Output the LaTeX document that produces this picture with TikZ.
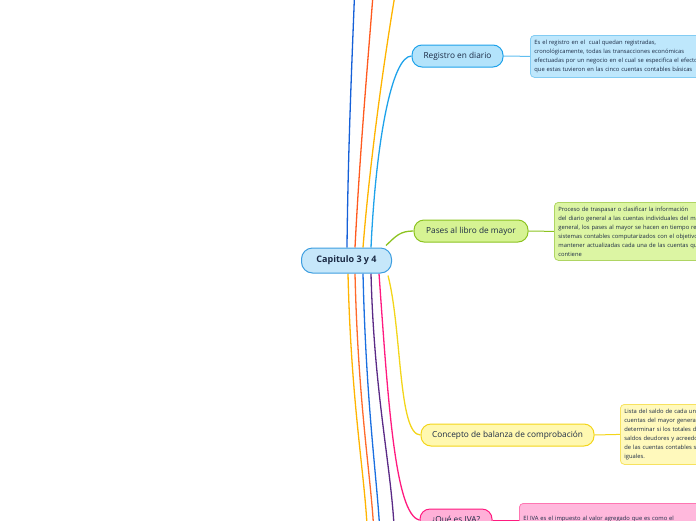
\documentclass[tikz,border=0pt]{standalone}
\usepackage{fontspec}
\setmainfont{Open Sans}
\usetikzlibrary{backgrounds}
\definecolor{cenfill}{HTML}{C6E7FA}
\definecolor{cenline}{HTML}{3D9EE0}
\definecolor{regfill}{HTML}{B3E3FB}
\definecolor{regline}{HTML}{1EA2EA}
\definecolor{pasfill}{HTML}{D6F393}
\definecolor{pasline}{HTML}{8CC320}
\definecolor{confill}{HTML}{FFF8B0}
\definecolor{conline}{HTML}{F3D51A}
\definecolor{ivafill}{HTML}{FFB0D8}
\definecolor{ivaline}{HTML}{FF1A7F}
\definecolor{cblue}{HTML}{1560D8}
\definecolor{cred}{HTML}{FF5A1F}
\definecolor{corange}{HTML}{FFB400}
\definecolor{cblue2}{HTML}{1A6FE0}
\definecolor{cpurple}{HTML}{5A2A86}
\definecolor{corred}{HTML}{FF6A2A}
\definecolor{ctext}{HTML}{1B2A44}
\tikzset{
  topic/.style={draw, line width=1pt, rounded corners=10pt, minimum height=22pt, inner sep=0pt,
    font=\fontsize{8.3}{10}\selectfont, text=ctext},
  note/.style={draw, line width=0.8pt, rounded corners=4pt, anchor=north west, align=left,
    inner xsep=4pt, inner ysep=4pt, font=\fontsize{5.8}{9}\selectfont, text=ctext},
  branch/.style={line width=1.3pt}
}
\begin{document}
\begin{tikzpicture}[x=1pt,y=-1pt]
\useasboundingbox (0,0) rectangle (696,520);
\clip (0,0) rectangle (696,520);
% central
\node[topic, fill=cenfill, draw=cenline, minimum width=90pt, minimum height=25pt, rounded corners=11pt,
  font=\fontsize{9}{11}\selectfont\bfseries] (cen) at (346.5,260.5) {Capitulo 3 y 4};
% topics
\node[topic, fill=regfill, draw=regline, minimum width=91pt] (reg) at (457.5,56) {Registro en diario};
\node[topic, fill=pasfill, draw=pasline, minimum width=114pt] (pas) at (471,231) {Pases al libro de mayor};
\node[topic, fill=confill, draw=conline, minimum width=173pt] (con) at (507.5,435) {Concepto de balanza de comprobación};
\node[topic, fill=ivafill, draw=ivaline, minimum width=72pt] (iva) at (456,520) {¿Qué es IVA?};
% notes
\node[note, fill=regfill!85!white, draw=regline!55!white, text width=200pt, minimum height=42pt] (n1) at (530,35)
 {Es el registro en el \ cual quedan registradas,\\
  cronológicamente, todas las transacciones económicas\\
  efectuadas por un negocio en el cual se especifica el efecto\\
  que estas tuvieron en las cinco cuentas contables básicas};
\node[note, fill=pasfill!85!white, draw=pasline!70!white, text width=200pt, minimum height=58pt] (n2) at (554,202)
 {Proceso de traspasar o clasificar la información\\
  del diario general a las cuentas individuales del mayor\\
  general, los pases al mayor se hacen en tiempo real en\\
  sistemas contables computarizados con el objetivo de\\
  mantener actualizadas cada una de las cuentas que\\
  contiene};
\node[note, fill=confill!85!white, draw=conline!70!white, text width=150pt, minimum height=60pt] (n3) at (620,404)
 {Lista del saldo de cada una de las\\
  cuentas del mayor general, para\\
  determinar si los totales de los\\
  saldos deudores y acreedores\\
  de las cuentas contables son\\
  iguales.};
\node[note, fill=ivafill!90!white, draw=ivaline!60!white, text width=200pt, minimum height=50pt] (n4) at (519,503)
 {El IVA es el impuesto al valor agregado que es como el\\
  impuesto a las ventas y que se cobra cuando compramos un\\
  producto};
% free ends
\coordinate (t1) at (354.5,-5);
\coordinate (t2) at (373,-5);
\coordinate (t3) at (395,-5);
\coordinate (b1) at (367,525);
\coordinate (b2) at (373.5,525);
\coordinate (b3) at (379.5,525);
\coordinate (b4) at (394,525);
\begin{pgfonlayer}{background}
\draw[branch, cblue] ([xshift=0.5pt]cen.north) .. controls (348,150) and (352,60) .. (t1);
\draw[branch, cred] ([xshift=8.5pt]cen.north) .. controls (360,150) and (368,60) .. (t2);
\draw[branch, corange] ([xshift=16.5pt]cen.north) .. controls (370,160) and (384,60) .. (t3);
\draw[branch, regline] ([xshift=24.5pt]cen.north) .. controls (376,140) and (392,56) .. (reg.west);
\draw[branch, pasline] ([xshift=-6pt,yshift=2pt]cen.north east) .. controls (396,236) and (400,231) .. (pas.west);
\draw[branch, corange] ([xshift=1.5pt]cen.south) .. controls (351,400) and (364,470) .. (b1);
\draw[branch, corred] ([xshift=8.5pt]cen.south) .. controls (358,400) and (370,470) .. (b2);
\draw[branch, cblue2] ([xshift=16.5pt]cen.south) .. controls (366,400) and (376,470) .. (b3);
\draw[branch, cpurple] ([xshift=24.5pt]cen.south) .. controls (374,390) and (390,460) .. (b4);
\draw[branch, ivaline] ([xshift=32.5pt]cen.south) .. controls (388,400) and (395,515) .. (iva.west);
\draw[branch, conline] ([xshift=-4pt,yshift=-2pt]cen.south east) .. controls (402,330) and (398,435) .. (con.west);
\draw[line width=1pt, regline!70!white] (reg.east) -- (n1.west);
\draw[line width=1pt, pasline] (pas.east) -- (n2.west);
\draw[line width=1pt, conline] (con.east) -- (n3.west);
\draw[line width=1pt, ivaline] (iva.east) -- (n4.west |- iva.east);
\end{pgfonlayer}
\end{tikzpicture}
\end{document}
